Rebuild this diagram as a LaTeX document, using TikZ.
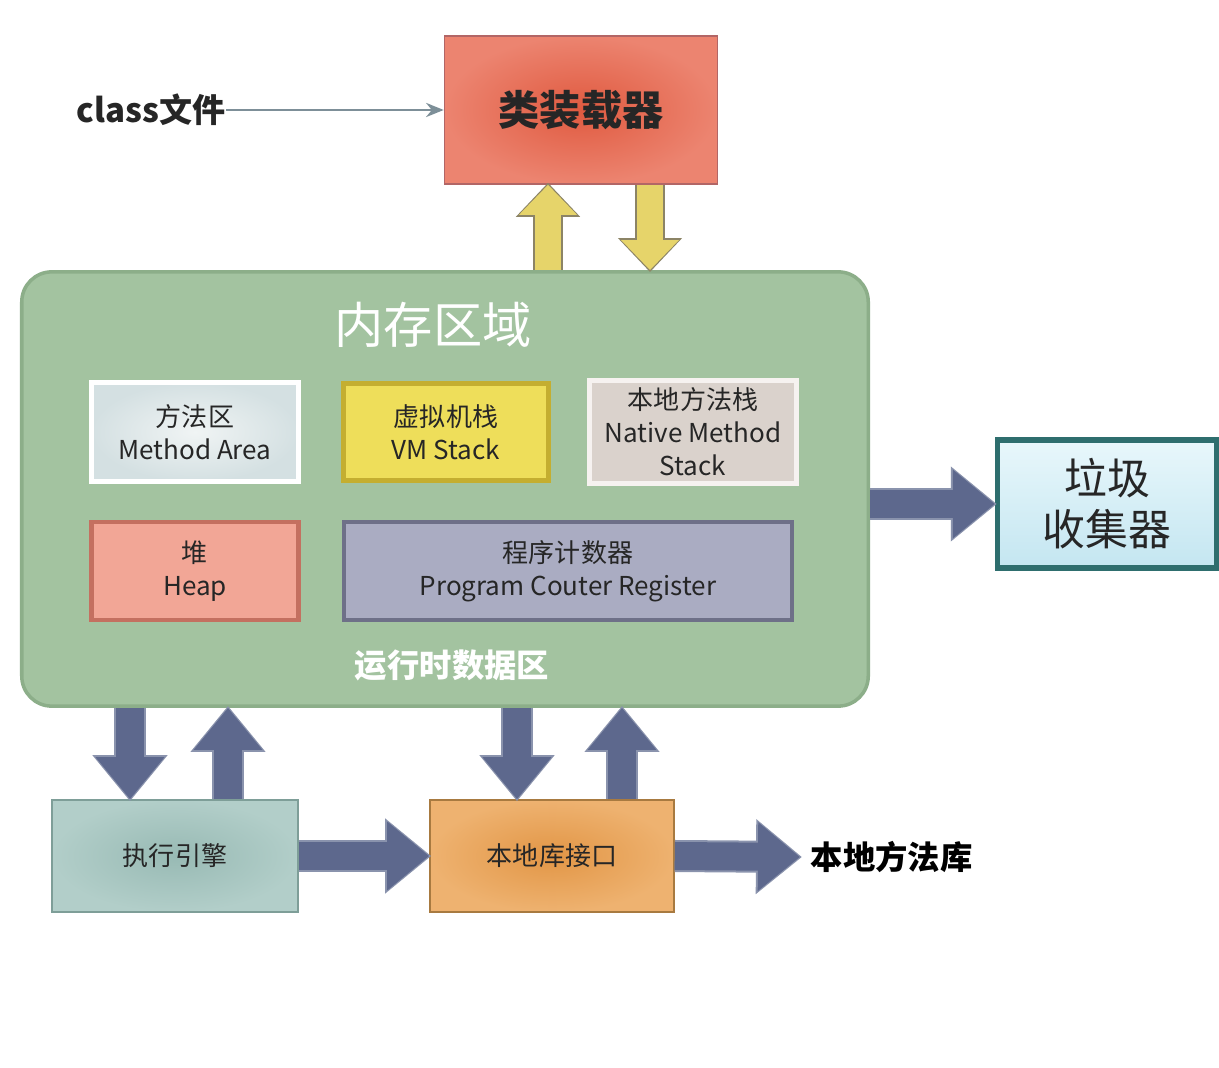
\documentclass[tikz,border=0pt]{standalone}
\usepackage{fontspec}
\setmainfont{Noto Sans CJK SC}
\usetikzlibrary{arrows.meta, positioning, calc}

\definecolor{memgreen}{HTML}{A3C3A0}
\definecolor{memedge}{HTML}{8CAE89}
\definecolor{slate}{HTML}{5D688D}
\definecolor{slateedge}{HTML}{8A93AD}
\definecolor{arrowyellow}{HTML}{E6D46A}
\definecolor{yellowedge}{HTML}{8C8466}
\definecolor{textdark}{HTML}{262626}

\begin{document}
\begin{tikzpicture}[
    x=0.01cm, y=-0.01cm,
    box/.style={rectangle, draw, align=center, inner sep=2pt, text=textdark, font=\fontsize{7.4}{9.4}\selectfont},
    inbox/.style={box, line width=1.3pt},
    bigarrow/.style={line width=0.28cm, draw=slate, -{Triangle[length=0.42cm, width=0.66cm]},
        preaction={draw=slateedge, line width=0.32cm, -{Triangle[length=0.46cm, width=0.72cm]}, shorten >=-0.02cm}},
    yarrow/.style={line width=0.26cm, draw=arrowyellow, -{Triangle[length=0.30cm, width=0.56cm]},
        preaction={draw=yellowedge, line width=0.30cm, -{Triangle[length=0.34cm, width=0.62cm]}, shorten >=-0.02cm}}
]
    \useasboundingbox[fill=white] (0,0) rectangle (1219,1068);

    % Class loader
    \node[box, minimum width=2.73cm, minimum height=1.48cm, draw=black!50!red!60, shading=radial,
          inner color={rgb,255:red,224;green,90;blue,64}, outer color={rgb,255:red,236;green,132;blue,112},
          font=\fontsize{11.7}{14}\selectfont\bfseries] (loader) at (581,110) {类装载器};
    \node[anchor=east, font=\fontsize{9.4}{11}\selectfont\bfseries, text=textdark, inner sep=0pt] (classfile) at (226,110) {class文件};
    \draw[-{Stealth[length=5pt, width=4pt]}, line width=0.8pt, draw=black!35!cyan!30!gray] (classfile.east) -- (loader.west |- classfile.east);

    % Runtime data area
    \node[draw=memedge, fill=memgreen, line width=1pt, rounded corners=0.3cm,
          minimum width=8.46cm, minimum height=4.34cm] (mem) at (445,489) {};
    \node[text=white, font=\fontsize{14}{16}\selectfont] (memtitle) at (433,325) {内存区域};
    \node[text=white, font=\fontsize{9.2}{11}\selectfont\bfseries] (memlabel) at (452,665) {运行时数据区};

    \node[inbox, draw=white, shading=radial, inner color={rgb,255:red,240;green,244;blue,244},
          outer color={rgb,255:red,212;green,224;blue,226}, minimum width=2.07cm, minimum height=0.99cm] (method) at (195,432) {方法区\\Method Area};
    \node[inbox, draw={rgb,255:red,196;green,174;blue,48}, fill={rgb,255:red,238;green,222;blue,90},
          minimum width=2.05cm, minimum height=0.97cm] (vmstack) at (446,432) {虚拟机栈\\VM Stack};
    \node[inbox, draw={rgb,255:red,246;green,242;blue,240}, fill={rgb,255:red,218;green,210;blue,204},
          minimum width=2.07cm, minimum height=0.99cm] (nativestack) at (693,432) {本地方法栈\\Native Method\\Stack};
    \node[inbox, draw={rgb,255:red,196;green,112;blue,96}, fill={rgb,255:red,242;green,166;blue,150},
          minimum width=2.07cm, minimum height=0.98cm] (heap) at (195,571) {堆\\Heap};
    \node[inbox, draw={rgb,255:red,110;green,112;blue,136}, fill={rgb,255:red,170;green,172;blue,194},
          minimum width=4.48cm, minimum height=0.98cm] (pc) at (568,571) {程序计数器\\Program Couter Register};

    % Garbage collector
    \node[box, draw={rgb,255:red,46;green,110;blue,110}, line width=1.5pt,
          top color={rgb,255:red,232;green,247;blue,251}, bottom color={rgb,255:red,196;green,230;blue,241},
          minimum width=2.19cm, minimum height=1.28cm, font=\fontsize{12.2}{14.5}\selectfont] (gc) at (1107,504) {垃圾\\收集器};

    % Execution engine and native interface
    \node[box, draw={rgb,255:red,126;green,158;blue,152}, shading=radial,
          inner color={rgb,255:red,152;green,186;blue,180}, outer color={rgb,255:red,178;green,206;blue,201},
          minimum width=2.46cm, minimum height=1.12cm] (exec) at (175,856) {执行引擎};
    \node[box, draw={rgb,255:red,168;green,122;blue,64}, shading=radial,
          inner color={rgb,255:red,226;green,150;blue,70}, outer color={rgb,255:red,238;green,178;blue,112},
          minimum width=2.44cm, minimum height=1.12cm] (jni) at (552,856) {本地库接口};
    \node[anchor=west, font=\fontsize{9.2}{11}\selectfont\bfseries, text=black, inner sep=0.1cm] (nativelib) at (800,857) {本地方法库};

    % Loader <-> memory
    \coordinate (lu) at ($(loader.south)+(-33,0)$);
    \coordinate (ld) at ($(loader.south)+(69,0)$);
    \draw[yarrow] (lu |- mem.north) -- (lu);
    \draw[yarrow] (ld) -- (ld |- mem.north);

    % Memory -> garbage collector
    \draw[bigarrow] (mem.east |- gc.west) -- (gc.west);

    % Memory <-> engine / interface
    \coordinate (ed) at ($(exec.north)+(-45,0)$);
    \coordinate (eu) at ($(exec.north)+(53,0)$);
    \coordinate (jd) at ($(jni.north)+(-35,0)$);
    \coordinate (ju) at ($(jni.north)+(70,0)$);
    \draw[bigarrow] (ed |- mem.south) -- (ed);
    \draw[bigarrow] (eu) -- (eu |- mem.south);
    \draw[bigarrow] (jd |- mem.south) -- (jd);
    \draw[bigarrow] (ju) -- (ju |- mem.south);

    % Engine -> interface -> native library
    \draw[bigarrow] (exec.east) -- (jni.west);
    \draw[bigarrow] (jni.east) -- (nativelib.west);
\end{tikzpicture}
\end{document}
